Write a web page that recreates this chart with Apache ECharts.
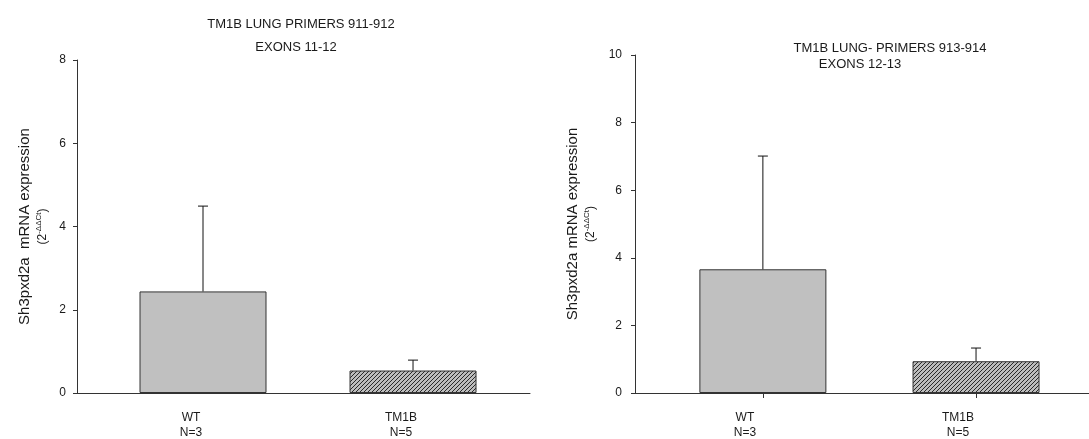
<!DOCTYPE html>
<html>
<head>
<meta charset="utf-8">
<script src="https://cdn.jsdelivr.net/npm/echarts@6/dist/echarts.min.js"></script>
<style>
html,body{margin:0;padding:0;background:#fff;}
#chart{width:1089px;height:439px;}
</style>
</head>
<body>
<div id="chart"></div>
<script>
// ---- data ----
const categories = ['WT\nN=3', 'TM1B\nN=5'];
const slots = [1, 2];
const leftMeans = [2.44, 0.54];
const leftErrors = [2.05, 0.25];
const rightMeans = [3.66, 0.94];
const rightErrors = [3.35, 0.39];
const leftYTicks = { min: 0, max: 8, interval: 2 };
const rightYTicks = { min: 0, max: 10, interval: 2 };
const leftTitle = ['TM1B LUNG PRIMERS 911-912', 'EXONS 11-12'];
const rightTitle = ['TM1B LUNG- PRIMERS 913-914', 'EXONS 12-13'];
const leftYName = 'Sh3pxd2a  mRNA expression';
const rightYName = 'Sh3pxd2a mRNA expression';

const FONT = '"Liberation Sans", Arial, sans-serif';
const TXT = '#1a1a1a';

function hatchPattern() {
  const c = document.createElement('canvas');
  c.width = 4; c.height = 4;
  const ctx = c.getContext('2d');
  ctx.fillStyle = '#bdbdbd';
  ctx.fillRect(0, 0, 4, 4);
  ctx.strokeStyle = '#2a2a2a';
  ctx.lineWidth = 1;
  ctx.beginPath();
  ctx.moveTo(-1, 1); ctx.lineTo(1, -1);
  ctx.moveTo(0, 4); ctx.lineTo(4, 0);
  ctx.moveTo(3, 5); ctx.lineTo(5, 3);
  ctx.stroke();
  return { image: c, repeat: 'repeat' };
}
const fills = ['#c0c0c0', hatchPattern()];

function barData(means) {
  return means.map((m, i) => ({ value: [slots[i], m], itemStyle: { color: fills[i] } }));
}
function errData(means, errs) {
  return means.map((m, i) => [slots[i], m, m + errs[i]]);
}
function errRender(params, api) {
  const x = api.value(0);
  const base = api.coord([x, api.value(1)]);
  const top = api.coord([x, api.value(2)]);
  const half = 5;
  const st = { stroke: '#111', lineWidth: 1 };
  return {
    type: 'group',
    children: [
      { type: 'line', shape: { x1: base[0], y1: base[1], x2: top[0], y2: top[1] }, style: st },
      { type: 'line', shape: { x1: top[0] - half, y1: top[1], x2: top[0] + half, y2: top[1] }, style: st }
    ]
  };
}
function yName(main) {
  return '{a|' + main + '}\n{b|(2}{s|-ΔΔCt}{b|)}';
}
const nameRich = {
  a: { fontSize: 15, fontFamily: FONT, color: TXT, lineHeight: 18 },
  b: { fontSize: 12, fontFamily: FONT, color: TXT, lineHeight: 17 },
  s: { fontSize: 8, fontFamily: FONT, color: TXT, lineHeight: 17, padding: [0, 0, 7, 0] }
};

const chart = echarts.init(document.getElementById('chart'), null, { renderer: 'canvas' });

function titleItem(text, cx, top) {
  return { text, left: cx, top, textAlign: 'center',
    textStyle: { fontSize: 13, fontWeight: 'normal', fontFamily: FONT, color: TXT } };
}

function xAxisFor(gridIndex, max, showTicks, padRight) {
  return {
    type: 'value', gridIndex, min: 0.4, max,
    splitLine: { show: false },
    axisLine: { show: true, onZero: false, lineStyle: { color: '#333', width: 1 } },
    axisTick: { show: showTicks, length: 5, customValues: slots, lineStyle: { color: '#333' } },
    axisLabel: {
      customValues: slots, margin: 17, fontSize: 12, lineHeight: 15, fontFamily: FONT, color: TXT,
      padding: [0, padRight, 0, 0],
      formatter: v => { const i = slots.indexOf(v); return i >= 0 ? categories[i] : ''; }
    }
  };
}
function yAxisFor(gridIndex, ticks, labelMargin, nameGap, main) {
  return {
    type: 'value', gridIndex, min: ticks.min, max: ticks.max, interval: ticks.interval,
    splitLine: { show: false },
    axisLine: { show: true, lineStyle: { color: '#333', width: 1 } },
    axisTick: { show: true, length: 4, lineStyle: { color: '#333' } },
    axisLabel: { margin: labelMargin, fontSize: 12, fontFamily: FONT, color: TXT },
    name: yName(main), nameLocation: 'middle', nameRotate: 90, nameGap,
    nameTextStyle: { rich: nameRich, align: 'center' }
  };
}

chart.setOption({
  backgroundColor: '#fff',
  animation: false,
  title: [
    titleItem(leftTitle[0], 296, 13),
    titleItem(leftTitle[1], 291, 36),
    titleItem(rightTitle[0], 885, 37),
    titleItem(rightTitle[1], 855, 53)
  ],
  grid: [
    { left: 77, top: 60, width: 453, bottom: 46, outerBoundsMode: 'none', containLabel: false },
    { left: 635, top: 55, width: 454, bottom: 46, outerBoundsMode: 'none', containLabel: false }
  ],
  xAxis: [
    xAxisFor(0, 2.557, false, 24),
    xAxisFor(1, 2.53, true, 36)
  ],
  yAxis: [
    yAxisFor(0, leftYTicks, 11, 26, leftYName),
    yAxisFor(1, rightYTicks, 13, 36, rightYName)
  ],
  series: [
    { type: 'bar', xAxisIndex: 0, yAxisIndex: 0, barWidth: 127, data: barData(leftMeans),
      itemStyle: { borderColor: '#333', borderWidth: 1 } },
    { type: 'custom', xAxisIndex: 0, yAxisIndex: 0, renderItem: errRender, encode: { x: 0, y: 2 },
      data: errData(leftMeans, leftErrors), z: 5 },
    { type: 'bar', xAxisIndex: 1, yAxisIndex: 1, barWidth: 127, data: barData(rightMeans),
      itemStyle: { borderColor: '#333', borderWidth: 1 } },
    { type: 'custom', xAxisIndex: 1, yAxisIndex: 1, renderItem: errRender, encode: { x: 0, y: 2 },
      data: errData(rightMeans, rightErrors), z: 5 }
  ]
});
</script>
</body>
</html>
